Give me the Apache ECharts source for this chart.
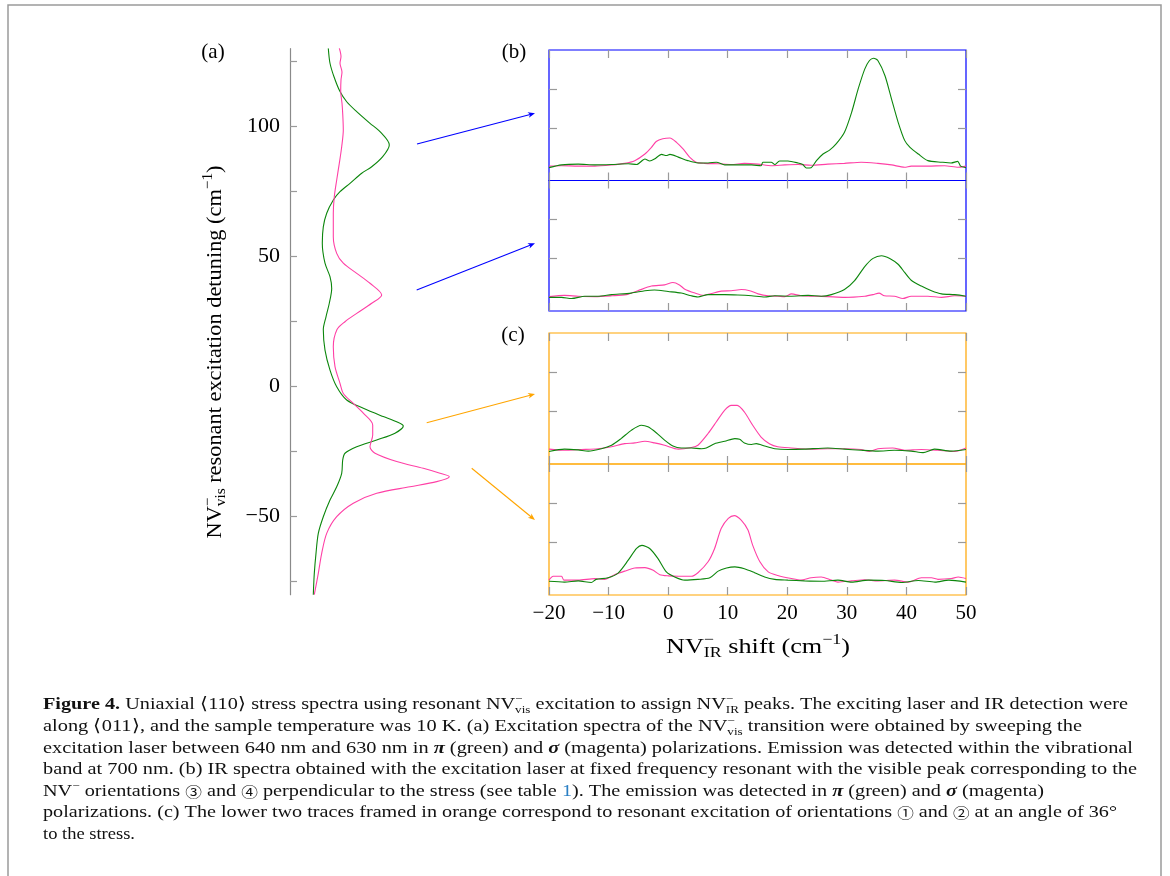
<!DOCTYPE html>
<html><head><meta charset="utf-8">
<script src="https://cdn.jsdelivr.net/npm/echarts@6/dist/echarts.min.js"></script>
<style>html,body{margin:0;padding:0;background:#fff}#c{width:1170px;height:876px}</style>
</head><body><div id="c"></div>
<script>
// ---------- DATA ----------
// Panel (a): [intensity (arb.), detuning (cm^-1)]
const aGreen = [[3.83,130.2],[4.0,124.4],[4.4,119.2],[5.0,113.5],[5.67,109.6],[6.67,105.8],[8.0,101.3],[9.0,98.1],[9.93,93.0],[9.27,88.5],[8.17,84.6],[7.17,82.1],[6.0,78.2],[5.0,75.0],[4.33,71.8],[3.67,66.7],[3.33,61.5],[3.23,55.2],[3.5,47.5],[4.0,42.3],[4.17,37.8],[3.93,32.1],[3.6,26.9],[3.33,22.0],[3.5,14.1],[4.0,6.4],[4.67,0],[5.67,-5.1],[7.33,-8.3],[9.33,-11.5],[10.67,-13.5],[11.33,-15.1],[10.5,-17.9],[8.67,-20.5],[6.67,-23.1],[5.5,-25.6],[5.27,-28.2],[5.17,-33.3],[4.67,-38.5],[4.0,-43.6],[3.33,-50],[2.83,-56.4],[2.6,-64.1],[2.43,-71.8],[2.33,-80]];
const aMagenta = [[4.93,130.2],[5.1,127],[5.0,124.4],[5.2,121],[5.1,118],[5.07,113.5],[5.2,109],[5.27,105.1],[5.33,98.7],[5.17,92.3],[4.93,85.9],[4.67,79.5],[4.43,73.1],[4.33,66.7],[4.33,57.7],[4.67,51.3],[5.33,47.5],[6.67,43.6],[8.0,39.8],[9.17,35.3],[8.17,32.1],[6.67,28.2],[5.5,25.0],[4.7,22.0],[4.33,15.4],[4.5,7.7],[5.0,1.3],[5.33,-2.6],[6.33,-6.4],[7.33,-10.2],[8.27,-14.7],[8.27,-18.6],[8.0,-23.1],[8.5,-25.6],[10.67,-28.8],[13.33,-31.4],[15.0,-33.3],[15.93,-34.6],[14.67,-36.5],[12.0,-38.5],[8.67,-41],[6.33,-44.8],[4.67,-50],[3.67,-56.4],[3.17,-64.1],[2.83,-71.8],[2.43,-80]];
const aTicks = [-75,-50,-25,0,25,50,75,100,125];
const aLabels = [-50,0,50,100];

// Panels (b),(c): [IR shift (cm^-1), intensity (arb.)]
const b1Green = [[-20,-0.02],[-17.9,0.05],[-15.1,0.07],[-12.3,0.05],[-9.5,0.06],[-6.7,0.08],[-5.3,0.06],[-3.9,0.2],[-3.1,0.15],[-2.3,0.2],[-1.1,0.32],[-0.3,0.29],[0.3,0.32],[1.7,0.25],[3.3,0.16],[5.0,0.1],[6.7,0.1],[8.1,0.12],[9.5,0.05],[11.7,0.05],[14.0,0.05],[15.6,0.03],[15.9,0.12],[17.3,0.12],[17.9,0.06],[18.7,0.15],[20.1,0.15],[21.8,0.1],[22.6,0.06],[23.2,-0.03],[24.0,-0.02],[24.9,0.16],[26.0,0.33],[27.1,0.43],[28.2,0.59],[29.6,0.89],[30.8,1.40],[31.9,2.0],[33.0,2.51],[33.8,2.73],[34.5,2.79],[35.2,2.73],[36.4,2.34],[37.5,1.74],[38.6,1.15],[39.7,0.68],[40.6,0.50],[42.0,0.33],[43.6,0.16],[45.9,0.12],[47.5,0.10],[48.6,0.14],[49.1,0.02],[50,-0.02]];
const b1Magenta = [[-20,0.02],[-17.9,0.03],[-15.1,0.02],[-12.3,0.02],[-9.5,0.05],[-7.3,0.09],[-5.6,0.16],[-3.9,0.33],[-2.8,0.50],[-2.0,0.65],[-0.9,0.72],[0.3,0.74],[1.4,0.63],[2.5,0.46],[3.6,0.25],[4.7,0.12],[6.1,0.09],[8.4,0.08],[10.6,0.06],[12.8,0.09],[15.1,0.07],[17.3,0.03],[19.6,0.05],[21.8,0.06],[24.0,0.04],[26.8,0.07],[29.6,0.09],[32.4,0.12],[35.2,0.09],[37.5,0.05],[39.7,-0.01],[40.8,0.02],[43.6,0.02],[46.4,0.03],[48.7,-0.01],[50,0.02]];
const b2Green = [[-20,0.0],[-17.9,0.0],[-16.2,-0.03],[-14.0,0.03],[-11.8,0.03],[-9.5,0.07],[-6.2,0.11],[-3.9,0.17],[-2.3,0.19],[0.0,0.15],[2.2,0.11],[3.9,0.04],[5.0,0.01],[6.7,0.07],[9.5,0.07],[11.7,0.06],[14.0,0.04],[16.2,0.01],[17.9,0.04],[20.7,0.03],[23.5,0.05],[25.7,0.03],[27.4,0.07],[29.6,0.2],[31.3,0.43],[33.0,0.79],[34.4,1.0],[35.8,1.07],[37.2,1.0],[38.6,0.85],[39.7,0.64],[40.8,0.44],[42.5,0.29],[44.2,0.17],[45.9,0.09],[48.1,0.07],[50,0.03]];
const b2Magenta = [[-20,0.02],[-17.4,0.05],[-15.1,0.03],[-12.3,0.02],[-9.5,0.04],[-7.0,0.07],[-5.1,0.17],[-2.8,0.29],[-0.6,0.32],[0.8,0.38],[1.9,0.32],[2.8,0.21],[4.5,0.11],[5.9,0.05],[7.3,0.10],[8.9,0.16],[10.6,0.17],[12.3,0.20],[13.7,0.17],[15.1,0.09],[16.8,0.04],[18.4,0.03],[19.6,0.02],[20.7,0.09],[22.3,0.04],[24.6,0.03],[26.8,0.02],[29.6,0.0],[33.0,0.03],[34.4,0.07],[35.4,0.11],[36.3,0.04],[38.0,0.03],[39.4,-0.03],[40.8,0.03],[43.6,0.03],[45.9,0.0],[48.1,0.04],[50,0.03]];
const c1Green = [[-20,-0.03],[-17.4,0.03],[-15.1,0.01],[-13.4,-0.02],[-11.2,0.04],[-9.5,0.13],[-7.9,0.30],[-6.2,0.51],[-4.5,0.64],[-3.4,0.60],[-2.0,0.45],[-0.6,0.26],[0.8,0.11],[2.2,0.06],[3.9,0.06],[5.6,0.04],[6.4,0.06],[7.8,0.17],[9.5,0.23],[11.2,0.30],[12.0,0.28],[12.8,0.19],[14.0,0.15],[14.8,0.17],[16.2,0.11],[17.9,0.04],[20.1,0.02],[22.9,0.03],[26.8,0.06],[29.6,0.03],[32.4,0.0],[35.2,-0.02],[38.0,0.0],[40.8,-0.02],[42.8,-0.06],[44.7,0.03],[47.5,-0.02],[50,0.02]];
const c1Magenta = [[-20,0.03],[-17.4,0.0],[-14.6,0.02],[-11.8,0.04],[-9.5,0.09],[-7.3,0.17],[-5.6,0.19],[-3.9,0.23],[-2.3,0.19],[-0.6,0.13],[1.7,0.03],[3.9,0.07],[5.0,0.13],[6.7,0.43],[8.1,0.73],[9.5,1.03],[10.6,1.15],[11.6,1.15],[12.8,0.98],[14.2,0.64],[15.6,0.34],[17.0,0.17],[18.4,0.09],[20.7,0.06],[24.0,0.03],[26.8,0.04],[29.6,0.04],[32.4,0.02],[33.8,-0.03],[35.2,0.04],[37.7,0.06],[39.7,0.0],[42.5,0.02],[45.3,0.0],[48.1,-0.03],[50,0.06]];
const c2Green = [[-20,0.0],[-17.4,-0.02],[-15.1,0.01],[-12.9,-0.03],[-12.1,0.05],[-10.1,0.09],[-8.4,0.21],[-6.7,0.54],[-5.3,0.84],[-4.4,0.92],[-3.1,0.84],[-1.7,0.58],[-0.3,0.24],[1.1,0.11],[2.8,0.03],[5.0,0.05],[7.0,0.09],[8.4,0.26],[9.8,0.34],[11.2,0.37],[12.8,0.32],[14.5,0.22],[16.2,0.11],[17.9,0.05],[20.1,0.03],[22.9,0.01],[25.7,0.0],[28.5,0.03],[30.8,-0.02],[33.6,0.03],[36.4,0.02],[39.2,-0.03],[42.0,0.02],[44.8,-0.02],[47.1,0.03],[50,-0.02]];
const c2Magenta = [[-20,0.03],[-19.3,0.13],[-17.9,0.13],[-17.5,0.03],[-15.1,0.03],[-12.3,0.07],[-10.7,0.05],[-9.0,0.17],[-7.3,0.26],[-5.6,0.34],[-3.9,0.35],[-2.5,0.28],[-1.4,0.17],[0.0,0.14],[1.7,0.13],[3.9,0.13],[5.0,0.22],[6.7,0.50],[7.8,0.84],[8.9,1.35],[10.1,1.61],[11.1,1.68],[12.3,1.56],[13.4,1.31],[14.2,0.92],[15.4,0.50],[16.8,0.24],[18.4,0.15],[20.7,0.07],[22.3,0.03],[24.0,0.09],[25.7,0.11],[27.4,0.03],[28.5,-0.02],[30.8,0.01],[33.0,0.04],[35.2,0.01],[38.0,0.03],[40.3,-0.02],[42.5,0.09],[44.2,0.09],[45.3,0.05],[47.5,0.07],[48.7,0.11],[50,0.07]];
const irTicksY = [1, 2];

// ---------- STYLE / LAYOUT ----------
const GREEN = '#0c860c', PINK = '#ff40a6', BLUE = '#0000ff', ORANGE = '#ffa500', TICK = '#9a9a9a';
const SERIF = 'Liberation Serif';
const minus = v => String(v).replace('-', '\u2212');

const subplots = [
  {top: 50,  h: 130.5, frame: BLUE,   g: b1Green, m: b1Magenta, labels: false},
  {top: 180.5, h: 130.5, frame: BLUE, g: b2Green, m: b2Magenta, labels: false},
  {top: 333, h: 131, frame: ORANGE, g: c1Green, m: c1Magenta, labels: false},
  {top: 464, h: 131, frame: ORANGE, g: c2Green, m: c2Magenta, labels: true}
];

const grid = [{left: 290, top: 48.7, width: 200, height: 546}];
const xAxis = [{gridIndex: 0, type: 'value', min: 0, max: 20, show: false}];
const yAxis = [{
  gridIndex: 0, type: 'value', min: -80, max: 130,
  axisLine: {show: true, onZero: false, lineStyle: {color: '#8a8a8a', width: 1.2}},
  axisTick: {show: true, inside: true, length: 7, customValues: aTicks, lineStyle: {color: TICK, width: 1.2}},
  axisLabel: {show: true, customValues: aLabels, formatter: minus, fontFamily: SERIF, fontSize: 22, color: '#000', margin: 10},
  splitLine: {show: false}
}];
const lineCommon = {type: 'line', showSymbol: false, silent: true};
const series = [
  Object.assign({}, lineCommon, {xAxisIndex: 0, yAxisIndex: 0, data: aGreen, smooth: 0.3, lineStyle: {color: GREEN, width: 1.1}, itemStyle: {color: GREEN}}),
  Object.assign({}, lineCommon, {xAxisIndex: 0, yAxisIndex: 0, data: aMagenta, smooth: 0.3, lineStyle: {color: PINK, width: 1.1}, itemStyle: {color: PINK}})
];

subplots.forEach((s, k) => {
  grid.push({left: 549, width: 417, top: s.top, height: s.h, show: true, borderColor: s.frame, borderWidth: 1.2, backgroundColor: 'transparent'});
  const gi = k + 1;
  const tick = {show: true, inside: true, length: 8, lineStyle: {color: TICK, width: 1.2}};
  ['bottom', 'top'].forEach(pos => xAxis.push({
    gridIndex: gi, type: 'value', position: pos, min: -20, max: 50, interval: 10,
    axisLine: {show: false, onZero: false}, axisTick: tick, splitLine: {show: false},
    axisLabel: {show: s.labels && pos === 'bottom', formatter: minus, fontFamily: SERIF, fontSize: 21, color: '#000', margin: 8}
  }));
  ['left', 'right'].forEach(pos => yAxis.push({
    gridIndex: gi, type: 'value', position: pos, min: -0.35, max: 3,
    axisLine: {show: false, onZero: false}, axisTick: Object.assign({}, tick, {customValues: irTicksY}),
    axisLabel: {show: false}, splitLine: {show: false}
  }));
  const xi = 1 + 2 * k, yi = 1 + 2 * k;
  series.push(Object.assign({}, lineCommon, {xAxisIndex: xi, yAxisIndex: yi, data: s.m, smooth: 0.25, lineStyle: {color: PINK, width: 1.1}, itemStyle: {color: PINK}}));
  series.push(Object.assign({}, lineCommon, {xAxisIndex: xi, yAxisIndex: yi, data: s.g, smooth: 0.25, lineStyle: {color: GREEN, width: 1.1}, itemStyle: {color: GREEN}}));
});

// ---------- ANNOTATIONS ----------
function arrow(x1, y1, x2, y2, color) {
  const dx = x2 - x1, dy = y2 - y1, L = Math.hypot(dx, dy), ux = dx / L, uy = dy / L, px = -uy, py = ux;
  const len = 7, w = 2.8, bx = x2 - ux * len, by = y2 - uy * len;
  return [
    {type: 'line', shape: {x1, y1, x2: x2 - ux * 4, y2: y2 - uy * 4}, style: {stroke: color, lineWidth: 1.1}},
    {type: 'polygon', shape: {points: [[x2, y2], [bx + px * w, by + py * w], [x2 - ux * len * 0.72, y2 - uy * len * 0.72], [bx - px * w, by - py * w]]}, style: {fill: color}}
  ];
}
function st(size, lh, extra) { return Object.assign({fontFamily: SERIF, fontSize: size, lineHeight: lh, fill: '#000', align: 'left'}, extra || {}); }
const texRich = {
  n: st(22, 28),
  sup0: st(15, 15, {verticalAlign: 'top', width: 0}),
  sup: st(15, 15, {verticalAlign: 'top'}),
  sub: st(15, 13, {verticalAlign: 'bottom'})
};
const capRich = {
  n: st(17, 22, {fill: '#111'}),
  b: st(17, 22, {fill: '#111', fontWeight: 'bold'}),
  bi: st(17, 22, {fill: '#111', fontWeight: 'bold', fontStyle: 'italic'}),
  circ: st(14, 22, {fill: '#111', fontFamily: 'Noto Sans CJK JP'}),
  sup0: st(11, 14, {fill: '#111', verticalAlign: 'top', width: 0}),
  sup: st(11, 14, {fill: '#111', verticalAlign: 'top'}),
  sub: st(11, 11, {fill: '#111', verticalAlign: 'bottom'}),
  link: st(17, 22, {fill: '#2a7fc4'})
};
const measureCtx = document.createElement('canvas').getContext('2d');
function richWidth(str, rich) {
  let w = 0;
  str.replace(/\{(\w+)\|([^}]*)\}/g, (m, s, t) => {
    const r = rich[s];
    if (r.width === 0) return m;
    measureCtx.font = (r.fontStyle || 'normal') + ' ' + (r.fontWeight || 'normal') + ' ' + r.fontSize + 'px "' + r.fontFamily + '"';
    w += measureCtx.measureText(t).width;
    return m;
  });
  return w;
}
const captionLines = [
  '{b|Figure 4.}{n| Uniaxial \u27e8110\u27e9 stress spectra using resonant NV}{sup0|\u2212}{sub|vis}{n| excitation to assign NV}{sup0|\u2212}{sub|IR}{n| peaks. The exciting laser and IR detection were}',
  '{n|along \u27e8011\u27e9, and the sample temperature was 10 K. (a) Excitation spectra of the NV}{sup0|\u2212}{sub|vis}{n| transition were obtained by sweeping the}',
  '{n|excitation laser between 640 nm and 630 nm in }{bi|\u03c0}{n| (green) and }{bi|\u03c3}{n| (magenta) polarizations. Emission was detected within the vibrational}',
  '{n|band at 700 nm. (b) IR spectra obtained with the excitation laser at fixed frequency resonant with the visible peak corresponding to the}',
  '{n|NV}{sup|\u2212}{n| orientations }{circ|\u2462}{n| and }{circ|\u2463}{n| perpendicular to the stress (see table }{link|1}{n|). The emission was detected in }{bi|\u03c0}{n| (green) and }{bi|\u03c3}{n| (magenta)}',
  '{n|polarizations. (c) The lower two traces framed in orange correspond to resonant excitation of orientations }{circ|\u2460}{n| and }{circ|\u2461}{n| at an angle of 36\u00b0}',
  '{n|to the stress.}'
];
const captionY = [705, 727, 748.5, 770, 791.5, 813, 835];
const captionRight = [1128, 1082, 1133, 1137, 1044, 1117, 135];
const CAP_X = 43;

const yTitle = '{n|NV}{sup0|\u2212}{sub|vis}{n| resonant excitation detuning (cm}{sup|\u22121}{n|)}';
const xTitle = '{n|NV}{sup0|\u2212}{sub|IR}{n| shift (cm}{sup|\u22121}{n|)}';

const graphic = [
  {type: 'rect', shape: {x: 8, y: 5, width: 1153, height: 900}, style: {fill: 'none', stroke: '#9a9a9a', lineWidth: 1.5}, silent: true},
  {type: 'text', x: 213, y: 52, style: {text: '(a)', font: '21px "Liberation Serif"', fill: '#000', align: 'center', verticalAlign: 'middle'}},
  {type: 'text', x: 514, y: 52, style: {text: '(b)', font: '21px "Liberation Serif"', fill: '#000', align: 'center', verticalAlign: 'middle'}},
  {type: 'text', x: 513, y: 335, style: {text: '(c)', font: '21px "Liberation Serif"', fill: '#000', align: 'center', verticalAlign: 'middle'}},
  {type: 'text', x: 215, y: 352, rotation: Math.PI / 2, scaleX: 373 / richWidth(yTitle, texRich), style: {text: yTitle, rich: texRich, align: 'center', verticalAlign: 'middle'}},
  {type: 'text', x: 758, y: 647, scaleX: 184 / richWidth(xTitle, texRich), style: {text: xTitle, rich: texRich, align: 'center', verticalAlign: 'middle'}}
]
  .concat(arrow(417, 144, 535, 113.3, BLUE))
  .concat(arrow(416.7, 290, 535, 243.3, BLUE))
  .concat(arrow(426.7, 422.7, 535, 394, ORANGE))
  .concat(arrow(471.7, 468.3, 535, 520, ORANGE))
  .concat(captionLines.map((t, i) => ({
    type: 'text', x: CAP_X, y: captionY[i],
    scaleX: (captionRight[i] - CAP_X) / richWidth(t, capRich),
    style: {text: t, rich: capRich, align: 'left', verticalAlign: 'middle'}
  })));

const chart = echarts.init(document.getElementById('c'), null, {renderer: 'canvas'});
chart.setOption({animation: false, backgroundColor: '#fff', grid, xAxis, yAxis, series, graphic});
</script></body></html>
